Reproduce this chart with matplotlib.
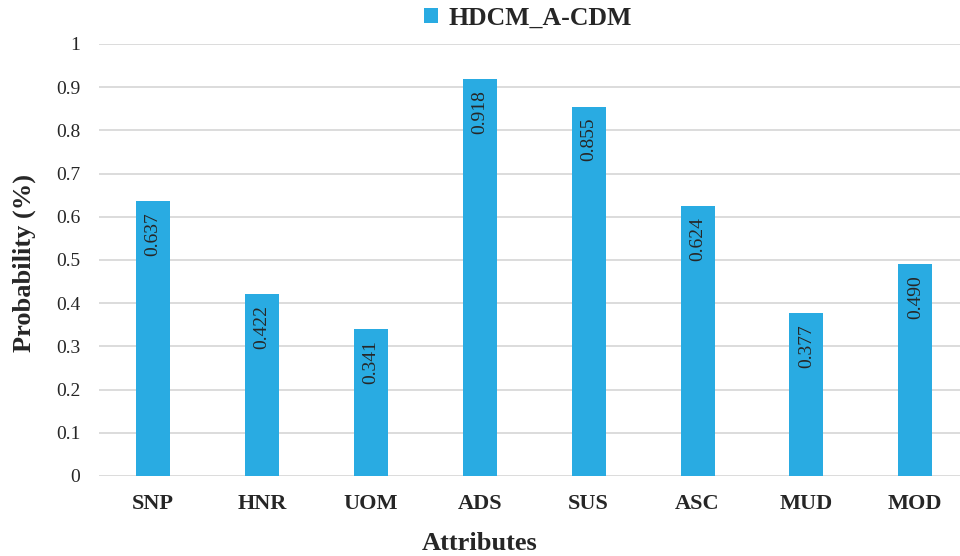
import matplotlib
matplotlib.use("Agg")
import matplotlib.pyplot as plt
from matplotlib.patches import Patch

attributes = ["SNP", "HNR", "UOM", "ADS", "SUS", "ASC", "MUD", "MOD"]
probabilities = [0.637, 0.422, 0.341, 0.918, 0.855, 0.624, 0.377, 0.490]
series_name = "HDCM_A-CDM"
y_ticks = [0, 0.1, 0.2, 0.3, 0.4, 0.5, 0.6, 0.7, 0.8, 0.9, 1]
y_tick_labels = ["0", "0.1", "0.2", "0.3", "0.4", "0.5", "0.6", "0.7", "0.8", "0.9", "1"]

bar_color = "#29ABE2"
text_color = "#262626"
grid_color = "#D9D9D9"

plt.rcParams["font.family"] = ["Liberation Serif", "DejaVu Serif"]

fig = plt.figure(figsize=(9.6, 5.56), dpi=100)
ax = fig.add_axes([98.5 / 960, 80 / 556, 871.3 / 960, 432 / 556])

x = list(range(len(attributes)))
ax.bar(x, probabilities, width=0.312, color=bar_color, zorder=3)

for xi, v in zip(x, probabilities):
    ax.annotate(f"{v:.3f}", xy=(xi, v), xytext=(0, -8), textcoords="offset points",
                rotation=90, ha="center", va="top", fontsize=14, color=text_color,
                zorder=4)

ax.set_xlim(-0.5, len(attributes) - 0.5)
ax.set_ylim(0, 1)
ax.set_yticks(y_ticks)
ax.set_yticklabels(y_tick_labels, fontsize=14, color=text_color)
ax.set_xticks(x)
ax.set_xticklabels(attributes, fontsize=16, fontweight="bold", color=text_color)
ax.tick_params(axis="both", length=0)
ax.tick_params(axis="y", pad=13)
ax.tick_params(axis="x", pad=13)

ax.grid(axis="y", color=grid_color, linewidth=1.3, zorder=0)
ax.set_axisbelow(True)
for s in ax.spines.values():
    s.set_visible(False)

fig.text(480 / 960, 1 - 543 / 556, "Attributes", ha="center", va="center",
         fontsize=19, fontweight="bold", color=text_color)
fig.text(24 / 960, 1 - 263 / 556, "Probability (%)", rotation=90, ha="center", va="center",
         fontsize=19, fontweight="bold", color=text_color)

handle = Patch(facecolor=bar_color, edgecolor="none", label=series_name)
fig.legend(handles=[handle], loc="center", bbox_to_anchor=(528 / 960, 1 - 18 / 556),
           frameon=False, prop={"weight": "bold", "size": 18.5},
           handlelength=0.55, handleheight=0.55, handletextpad=0.4, labelcolor=text_color)

fig.savefig("out.png", dpi=100)
